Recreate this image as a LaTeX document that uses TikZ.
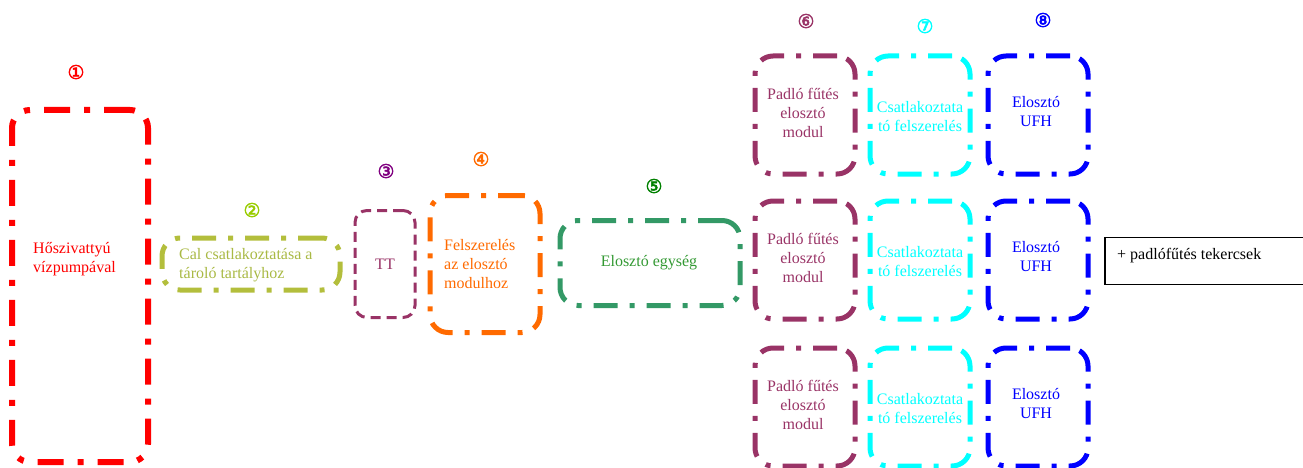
\documentclass[tikz,border=0pt]{standalone}
\usepackage{fontspec}
\setmainfont{Liberation Serif}
\newfontfamily\symf[FakeBold=2.5]{DejaVu Sans}
\definecolor{cRed}{HTML}{FF0000}
\definecolor{cOlive}{HTML}{B3BE3C}
\definecolor{cOliveT}{HTML}{A9B944}
\definecolor{cLime}{HTML}{99CC00}
\definecolor{cPlum}{HTML}{993366}
\definecolor{cPurple}{HTML}{800080}
\definecolor{cOrange}{HTML}{FF6A00}
\definecolor{cSea}{HTML}{339966}
\definecolor{cSeaT}{HTML}{339933}
\definecolor{cGreen}{HTML}{008000}
\definecolor{cCyan}{HTML}{00FFFF}
\definecolor{cBlue}{HTML}{0000FF}
\begin{document}
\begin{tikzpicture}[x=1pt,y=-1pt,
  bx/.style={draw, rounded corners=18pt, line width=5pt, inner sep=0pt,
     dash pattern=on 24pt off 12pt on 5pt off 12pt},
  big/.style={bx, line width=6pt, dash pattern=on 26pt off 14pt on 6pt off 14pt},
  cell/.style={bx, minimum width=100pt, minimum height=118pt},
  txt/.style={font=\fontsize{16}{19}\selectfont, inner sep=0pt},
  num/.style={font=\symf\fontsize{19}{19}\selectfont, inner sep=0pt}]
\useasboundingbox (0,0) rectangle (1303,468);
% box 1
\node[big, draw=cRed, minimum width=136pt, minimum height=352pt] (b1) at (80,286) {};
\node[txt, text=cRed, align=left, anchor=west] (t1) at (33,259) {Hőszivattyú\\vízpumpával};
\node[num, text=cRed] (n1) at (76,72) {①};
% box 2
\node[bx, draw=cOlive, minimum width=178pt, minimum height=52pt] (b2) at (251,264) {};
\node[txt, text=cOliveT, align=left, anchor=west] (t2) at (179,265) {Cal csatlakoztatása a\\tároló tartályhoz};
\node[num, text=cLime] (n2) at (252,210) {②};
% box 3
\node[draw=cPlum, rounded corners=12pt, line width=3pt, dash pattern=on 10pt off 6pt,
      minimum width=60pt, minimum height=107pt, inner sep=0pt] (b3) at (385,264) {};
\node[txt, text=cPlum] (t3) at (385,264) {TT};
\node[num, text=cPurple] (n3) at (386,171) {③};
% box 4
\node[bx, draw=cOrange, minimum width=110pt, minimum height=137pt] (b4) at (485,264) {};
\node[txt, text=cOrange, align=left, anchor=west] (t4) at (444,264) {Felszerelés\\az elosztó\\modulhoz};
\node[num, text=cOrange] (n4) at (481,159) {④};
% box 5
\node[bx, draw=cSea, minimum width=180pt, minimum height=85pt] (b5) at (650,263) {};
\node[txt, text=cSeaT] (t5) at (649,263) {Elosztó egység};
\node[num, text=cGreen] (n5) at (654,186) {⑤};
% grid
\foreach \r/\y in {1/115,2/260,3/407}{
  \node[cell, draw=cPlum] (p\r) at (805,\y) {};
  \node[txt, text=cPlum, align=center] (tp\r) at (803,\y-2) {Padló fűtés\\elosztó\\modul};
  \node[cell, draw=cCyan] (c\r) at (920,\y) {};
  \node[txt, text=cCyan, align=center] (tc\r) at (920,\y+2) {Csatlakoztata\\tó felszerelés};
  \node[cell, draw=cBlue] (u\r) at (1038,\y) {};
  \node[txt, text=cBlue, align=center] (tu\r) at (1036,\y-3) {Elosztó\\UFH};
}
\node[num, text=cPlum] (n6) at (806,21) {⑥};
\node[num, text=cCyan] (n7) at (925,26) {⑦};
\node[num, text=cBlue] (n8) at (1043,20) {⑧};
% black box
\node[draw=black, line width=1.2pt, minimum width=210pt, minimum height=47pt, inner sep=0pt] (bb) at (1210,261) {};
\node[txt, anchor=west] (tb) at (1117,256) {+ padlófűtés tekercsek};
\end{tikzpicture}
\end{document}
